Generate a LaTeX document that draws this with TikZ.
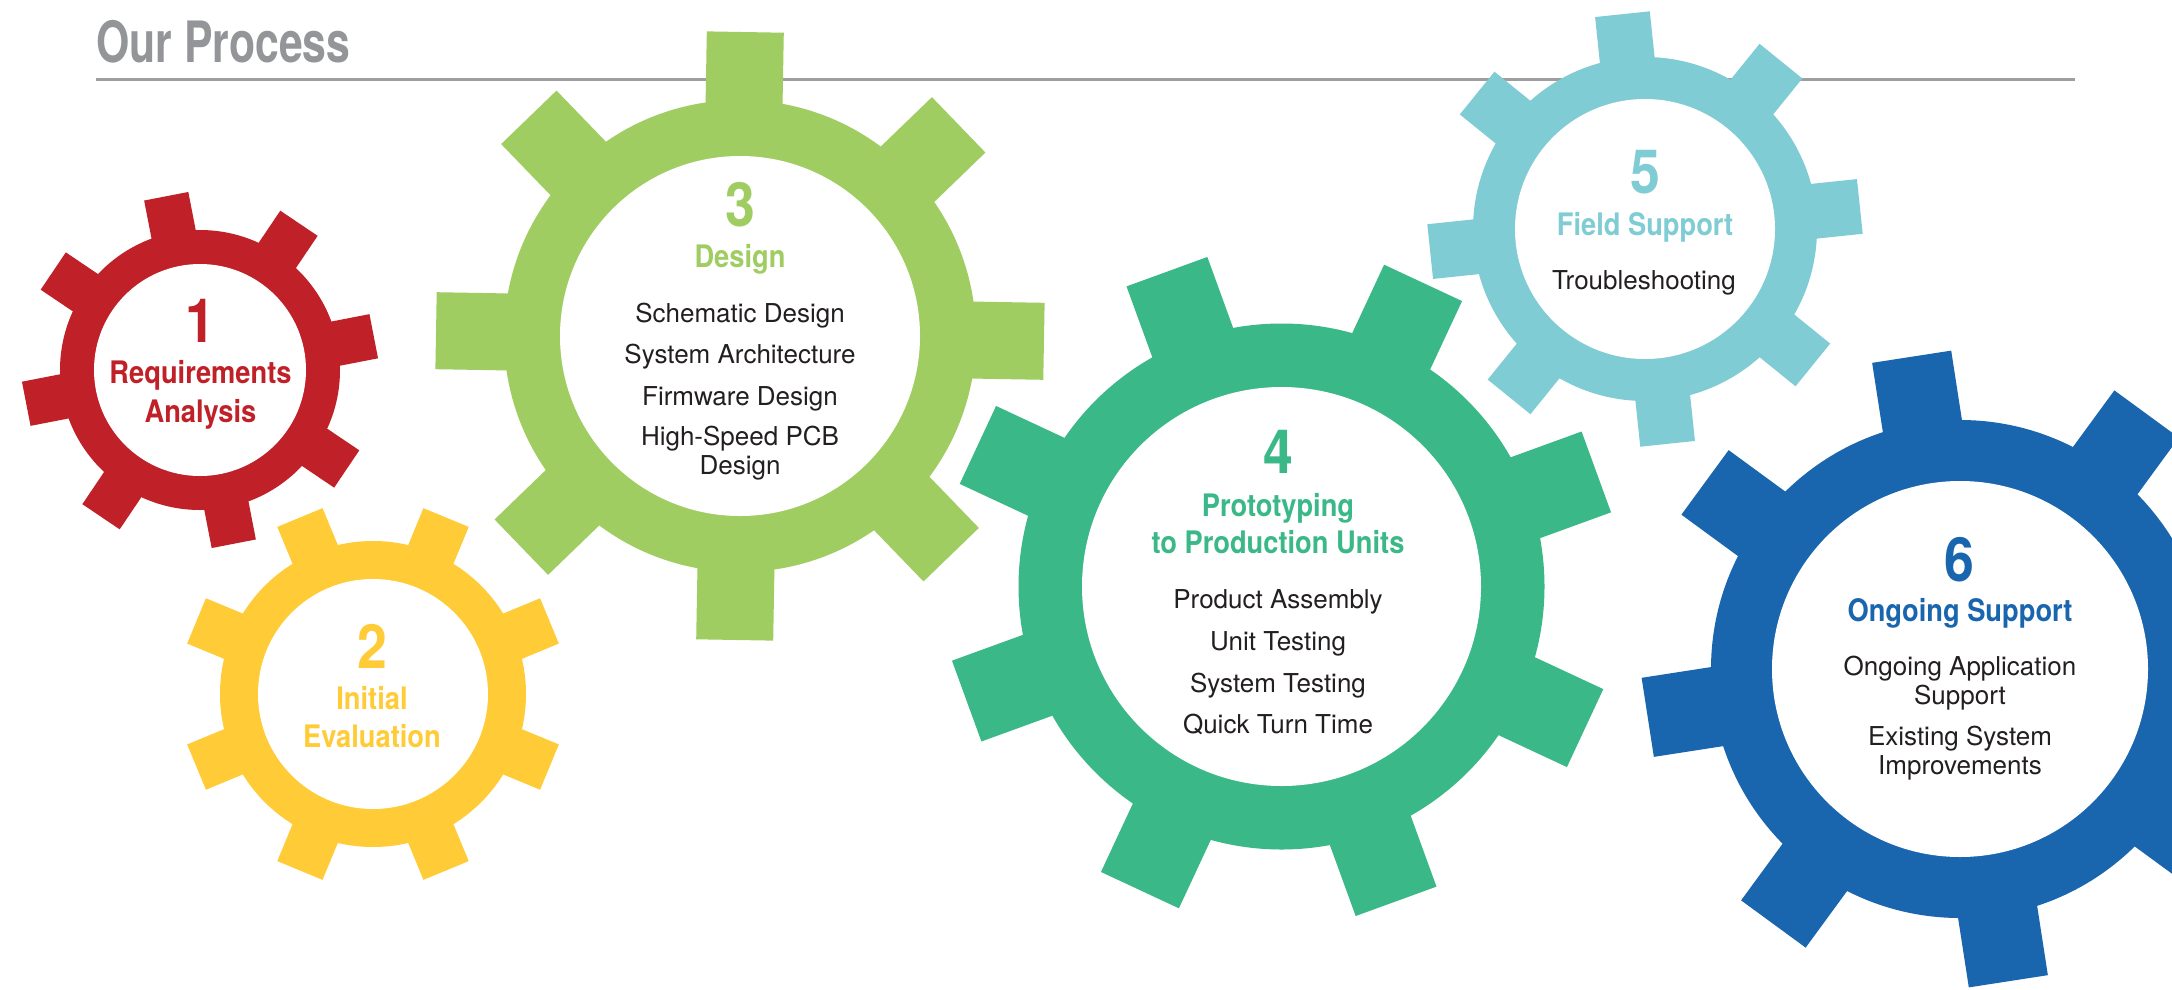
\documentclass[tikz,border=0pt]{standalone}
\usepackage{fontspec}
\newfontfamily\bodyfont{TeX Gyre Heros}
\newfontfamily\headfam[FakeStretch=0.88]{TeX Gyre Heros}
\newfontfamily\titlefam[FakeStretch=0.75]{TeX Gyre Heros}
\newcommand{\headfont}{\headfam\bfseries}
\newcommand{\titlefont}{\titlefam\bfseries}
\definecolor{gearred}{RGB}{192,32,39}
\definecolor{gearyellow}{RGB}{255,203,55}
\definecolor{gearlime}{RGB}{160,205,98}
\definecolor{gearteal}{RGB}{58,184,136}
\definecolor{gearsky}{RGB}{127,204,212}
\definecolor{gearblue}{RGB}{26,102,174}
\definecolor{titlegray}{RGB}{147,149,152}
\definecolor{rulegray}{RGB}{158,158,161}
\definecolor{bodyc}{RGB}{35,31,32}
% cx, cy, inner r, outer r, tip r, tooth width, start angle, colour
\newcommand{\gearshape}[8]{%
  \begin{scope}[shift={(#1,#2)}]
    \fill[#8] (0,0) circle[radius=#4];
    \foreach \k in {0,...,7}{
      \fill[#8, rotate={#7+45*\k}] ({#4*0.8},{-#6/2}) rectangle (#5,{#6/2});
    }
    \fill[white] (0,0) circle[radius=#3];
  \end{scope}}
\begin{document}
\begin{tikzpicture}[x=1pt,y=-1pt,
  titletext/.style={anchor=base west, inner sep=0pt, text=titlegray, font=\titlefont\fontsize{57}{57}\selectfont},
  numtext/.style={anchor=base, inner sep=0pt, font=\headfont\fontsize{61}{61}\selectfont},
  headtext/.style={anchor=base, inner sep=0pt, font=\headfont\fontsize{31}{31}\selectfont},
  bodytext/.style={anchor=base, inner sep=0pt, text=bodyc, font=\bodyfont\fontsize{26}{26}\selectfont},
  ruleline/.style={draw=rulegray, line width=3pt}]
\useasboundingbox (0,0) rectangle (2172,989);
\clip (0,0) rectangle (2172,989);
\fill[white] (0,0) rectangle (2172,989);

% title and rule
\node[titletext] (title) at (96,62) {Our Process};
\coordinate (ruleL) at (96,79);
\coordinate (ruleR) at (2075,79);
\draw[ruleline] (ruleL) -- (ruleR);

% gears
\gearshape{200}{370}{106}{140}{177}{45}{11}{gearred}
\gearshape{373}{694}{115}{153}{191}{49}{22.5}{gearyellow}
\gearshape{740}{336}{180}{236}{304}{77}{-1}{gearlime}
\gearshape{1281.5}{586.5}{199.5}{263}{335}{86}{20}{gearteal}
\gearshape{1645}{229}{130}{172}{216}{55}{6}{gearsky}
\gearshape{1960}{669}{188}{249}{316}{80}{8.8}{gearblue}

% gear 1
\node[numtext, text=gearred] (n1) at (200,342) {1};
\node[headtext, text=gearred] (h1a) at (200.5,383) {Requirements};
\node[headtext, text=gearred] (h1b) at (200.5,422) {Analysis};
% gear 2
\node[numtext, text=gearyellow] (n2) at (372,668) {2};
\node[headtext, text=gearyellow] (h2a) at (372,709) {Initial};
\node[headtext, text=gearyellow] (h2b) at (372,747) {Evaluation};
% gear 3
\node[numtext, text=gearlime] (n3) at (740,226) {3};
\node[headtext, text=gearlime] (h3) at (740,267.5) {Design};
\node[bodytext] (b3a) at (740,322.6) {Schematic Design};
\node[bodytext] (b3b) at (740,363) {System Architecture};
\node[bodytext] (b3c) at (740,405.6) {Firmware Design};
\node[bodytext] (b3d) at (740,445.8) {High-Speed PCB};
\node[bodytext] (b3e) at (740,474.8) {Design};
% gear 4
\node[numtext, text=gearteal] (n4) at (1278,473) {4};
\node[headtext, text=gearteal] (h4a) at (1278,516.5) {Prototyping};
\node[headtext, text=gearteal] (h4b) at (1278,553.6) {to Production Units};
\node[bodytext] (b4a) at (1278,608.5) {Product Assembly};
\node[bodytext] (b4b) at (1278,650.4) {Unit Testing};
\node[bodytext] (b4c) at (1278,692) {System Testing};
\node[bodytext] (b4d) at (1278,733) {Quick Turn Time};
% gear 5
\node[numtext, text=gearsky] (n5) at (1645,193.3) {5};
\node[headtext, text=gearsky] (h5) at (1645,235) {Field Support};
\node[bodytext] (b5a) at (1644,289.3) {Troubleshooting};
% gear 6
\node[numtext, text=gearblue] (n6) at (1959,581.7) {6};
\node[headtext, text=gearblue] (h6) at (1960,621.7) {Ongoing Support};
\node[bodytext] (b6a) at (1960,675.7) {Ongoing Application};
\node[bodytext] (b6b) at (1960,704) {Support};
\node[bodytext] (b6c) at (1960,745.7) {Existing System};
\node[bodytext] (b6d) at (1960,774.3) {Improvements};
\end{tikzpicture}
\end{document}
